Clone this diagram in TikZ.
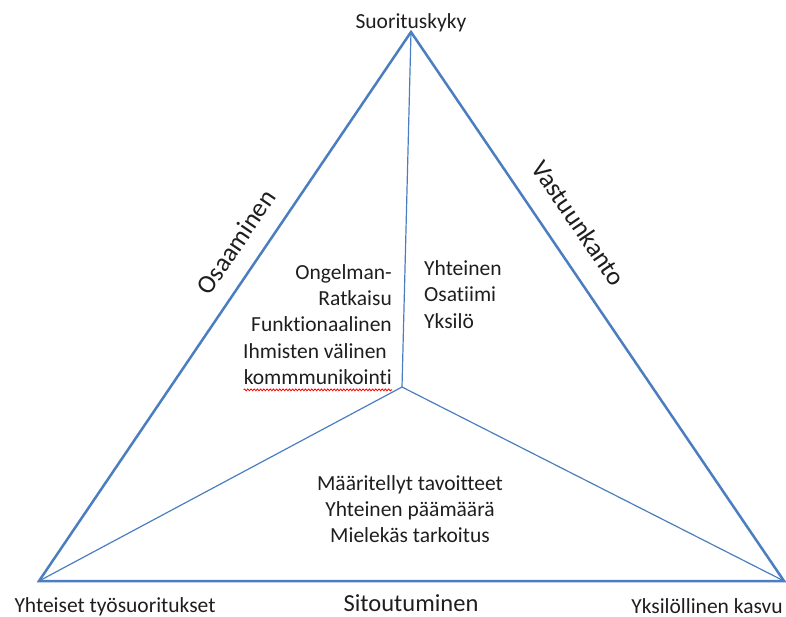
\documentclass[tikz,border=0pt]{standalone}
\usepackage{fontspec}
\setmainfont{Carlito}[Ligatures=NoCommon]
\usetikzlibrary{decorations.pathmorphing}
\definecolor{triblue}{RGB}{74,126,192}
\definecolor{txt}{RGB}{30,30,30}
\tikzset{
  outer/.style={draw=triblue, line width=2.5pt, line join=miter},
  inner/.style={draw=triblue, line width=1.2pt},
  lbl/.style={inner sep=0pt, text=txt, font=\fontsize{21.5}{26.5}\selectfont},
  biglbl/.style={inner sep=0pt, text=txt, font=\fontsize{26}{30}\selectfont},
  spell/.style={draw=red, line width=0.8pt, decorate, decoration={snake, amplitude=0.9pt, segment length=3.2pt}}
}
\begin{document}
\begin{tikzpicture}[x=1pt, y=-1pt]
\useasboundingbox (0,0) rectangle (786,616);
\coordinate (T) at (411,32);
\coordinate (L) at (39,581);
\coordinate (R) at (784,581);
\coordinate (C) at (402,387);
\draw[outer] (T) -- (L) -- (R) -- cycle;
\draw[inner] (C) -- (T);
\draw[inner] (C) -- (L);
\draw[inner] (C) -- (R);

\node[lbl, anchor=base] (top) at (411,28) {Suorituskyky};
\node[lbl, anchor=base] (bl) at (115,612) {Yhteiset työsuoritukset};
\node[lbl, anchor=base] (br) at (707,613) {Yksilöllinen kasvu};
\node[inner sep=0pt, text=txt, font=\fontsize{24.5}{28}\selectfont, anchor=base] (bot) at (411,611) {Sitoutuminen};

\node[biglbl, rotate=55.8] (osa) at (236,242) {Osaaminen};
\node[biglbl, rotate=-55.8] (vas) at (579,223) {Vastuunkanto};

\node[lbl, anchor=base east] (l1) at (392,279) {Ongelman-};
\node[lbl, anchor=base east] (l2) at (392,305.5) {Ratkaisu};
\node[lbl, anchor=base east] (l3) at (392,331.8) {Funktionaalinen};
\node[lbl, anchor=base east] (l4) at (387,358) {Ihmisten välinen};
\node[lbl, anchor=base east] (l5) at (392,384) {kommmunikointi};
\draw[spell] ([yshift=-5.5pt]l5.south west) -- ([yshift=-5.5pt]l5.south east);

\node[lbl, anchor=base west] (r1) at (424,275) {Yhteinen};
\node[lbl, anchor=base west] (r2) at (424,301.5) {Osatiimi};
\node[lbl, anchor=base west] (r3) at (424,328) {Yksilö};

\node[lbl, anchor=base] (b1) at (410,490.5) {Määritellyt tavoitteet};
\node[lbl, anchor=base] (b2) at (410,516.5) {Yhteinen päämäärä};
\node[lbl, anchor=base] (b3) at (410,542.5) {Mielekäs tarkoitus};
\end{tikzpicture}
\end{document}
